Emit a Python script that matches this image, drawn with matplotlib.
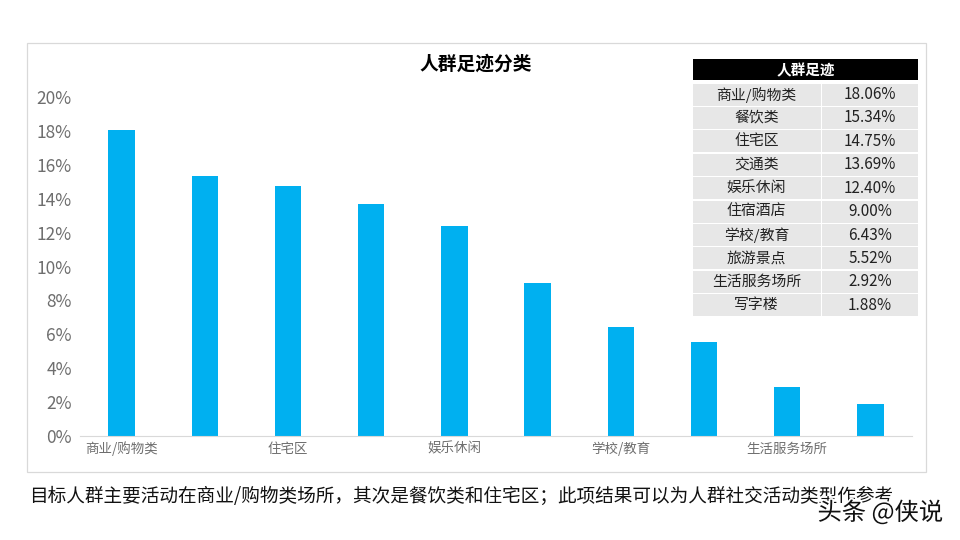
#!/usr/bin/env python3
import matplotlib
matplotlib.use('Agg')
import numpy as np
import matplotlib.pyplot as plt
import matplotlib.patches as mpatches
import matplotlib.patheffects as pe

plt.rcParams['font.family'] = ['Noto Sans CJK SC', 'DejaVu Sans']

W, H = 960, 540

# ── Data ──────────────────────────────────────────────────────────────────────
categories = ['商业/购物类', '餐饮类', '住宅区', '交通类', '娱乐休闲',
              '住宿酒店', '学校/教育', '旅游景点', '生活服务场所', '写字楼']
values = [18.06, 15.34, 14.75, 13.69, 12.40, 9.00, 6.43, 5.52, 2.92, 1.88]
y_ticks = [0, 2, 4, 6, 8, 10, 12, 14, 16, 18, 20]

title = '人群足迹分类'
table_title = '人群足迹'
caption = '目标人群主要活动在商业/购物类场所，其次是餐饮类和住宅区；此项结果可以为人群社交活动类型作参考'
watermark = '头条 @侠说'

BLUE = '#00B0F0'
GREY = '#6E6E6E'


def px_rect(x0, y0, x1, y1):
    """Pixel box (top-left origin) to figure fractions."""
    return [x0 / W, 1 - y1 / H, (x1 - x0) / W, (y1 - y0) / H]


fig = plt.figure(figsize=(W / 100, H / 100), dpi=100, facecolor='white')

# chart frame, kept behind the axes
fig.add_artist(mpatches.Rectangle((27 / W, 1 - 472 / H), 899 / W, 429 / H,
                                  transform=fig.transFigure, facecolor='white',
                                  edgecolor='#D9D9D9', linewidth=0.9, zorder=-1))

# ── Bars ──────────────────────────────────────────────────────────────────────
ax = fig.add_axes(px_rect(80, 97, 912, 436))
ax.patch.set_alpha(0)
x = np.arange(len(categories))
ax.bar(x, values, width=0.315, color=BLUE)
ax.set_xlim(-0.5, len(categories) - 0.5)
ax.set_ylim(0, 20)
ax.set_yticks(y_ticks)
ax.set_yticklabels([f'{t}%' for t in y_ticks], fontsize=12.5, color=GREY)
ax.set_xticks(x)
# the axis only has room for every other label
ax.set_xticklabels([c if i % 2 == 0 else '' for i, c in enumerate(categories)],
                   fontsize=9.7, color=GREY)
ax.tick_params(axis='both', length=0)
ax.tick_params(axis='y', pad=6)
ax.tick_params(axis='x', pad=4)
for s in ('top', 'right', 'left'):
    ax.spines[s].set_visible(False)
ax.spines['bottom'].set_color('#D9D9D9')

fig.text(476 / W, 1 - 64.5 / H, title, fontsize=13.5, fontweight='bold',
         color='black', ha='center', va='center')

# ── Side table ────────────────────────────────────────────────────────────────
tax = fig.add_axes(px_rect(693, 59, 918, 316))
tax.axis('off')
tax.set_xlim(693, 918)
tax.set_ylim(316, 59)
tax.add_patch(mpatches.Rectangle((693, 59), 225, 21, facecolor='black', edgecolor='none'))
tax.text(805.5, 70, table_title, color='white', fontsize=10.5, fontweight='bold',
         ha='center', va='center')
row_h = 23.4
for i, (c, v) in enumerate(zip(categories, values)):
    top = 83.5 + i * row_h
    tax.add_patch(mpatches.Rectangle((693, top), 128, row_h - 1.3,
                                     facecolor='#E7E7E7', edgecolor='none'))
    tax.add_patch(mpatches.Rectangle((822, top), 96, row_h - 1.3,
                                     facecolor='#E7E7E7', edgecolor='none'))
    tax.text(756.5, top + row_h / 2 - 0.6, c, fontsize=10.7, color='#222222',
             ha='center', va='center')
    tax.text(870, top + row_h / 2 - 0.6, f'{v:.2f}%', fontsize=11, color='#222222',
             ha='center', va='center')

# ── Caption and watermark ─────────────────────────────────────────────────────
fig.text(29 / W, 1 - 496.5 / H, caption, fontsize=13.45, color='#111111',
         ha='left', va='center')
fig.text(943 / W, 1 - 513 / H, watermark, fontsize=17.5, color='#111111',
         ha='right', va='center',
         path_effects=[pe.withStroke(linewidth=2.5, foreground='white')])

fig.savefig('out.png', dpi=100)
plt.close(fig)
